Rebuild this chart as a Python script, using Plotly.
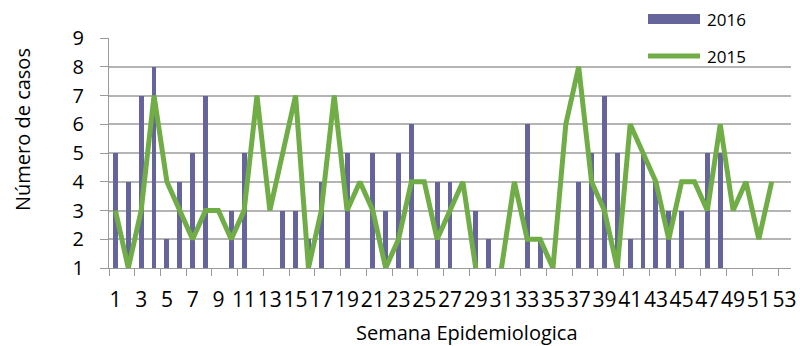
import plotly.graph_objects as go

# Epidemiological weeks 1..53
semanas = list(range(1, 54))

# Weekly case counts, 2016 (bars)
casos_2016 = [5, 4, 7, 8, 2, 4, 5, 7, 0, 3,
              5, 0, 0, 3, 3, 2, 4, 0, 5, 0,
              5, 3, 5, 6, 0, 4, 4, 0, 3, 2,
              0, 0, 6, 2, 0, 0, 4, 5, 7, 5,
              2, 5, 4, 3, 3, 0, 5, 5, 0, 0,
              0, 0, 0]

# Weekly case counts, 2015 (line); week 53 has no record
casos_2015 = [3, 1, 3, 7, 4, 3, 2, 3, 3, 2,
              3, 7, 3, 5, 7, 1, 3, 7, 3, 4,
              3, 1, 2, 4, 4, 2, 3, 4, 1, 0,
              1, 4, 2, 2, 1, 6, 8, 4, 3, 1,
              6, 5, 4, 2, 4, 4, 3, 6, 3, 4,
              2, 4, None]

etiquetas_x = [str(s) for s in semanas if s % 2 == 1]
valores_x = [s for s in semanas if s % 2 == 1]

PURPLE = "#65659C"
GREEN = "#70AD47"
GRID = "#b4b4b4"
AXIS = "#9a9a9a"
FONT = "Open Sans"

fig = go.Figure()
fig.add_trace(go.Bar(x=semanas, y=casos_2016, name="2016",
                     marker=dict(color=PURPLE, line=dict(width=0)),
                     width=0.38))
fig.add_trace(go.Scatter(x=semanas, y=casos_2015, name="2015", mode="lines",
                         line=dict(color=GREEN, width=5),
                         connectgaps=False))

# plot-area pixel geometry helpers
L, R, T, B = 109, 791, 38, 268
def px(x):
    return (x - L) / (R - L)
def py(y):
    return (B - y) / (B - T)

fig.update_layout(
    width=800, height=346,
    margin=dict(l=L, r=800 - R, t=T, b=346 - B, autoexpand=False),
    paper_bgcolor="white", plot_bgcolor="white",
    showlegend=False,
    font=dict(family=FONT, color="#000000", size=20),
    xaxis=dict(
        range=[0.5, 53.5], tickmode="array", tickvals=valores_x, ticktext=etiquetas_x,
        tickangle=0, ticks="", ticklen=0, showgrid=False, zeroline=False,
        showline=True, linecolor=AXIS, linewidth=1.2, automargin=False,
        tickfont=dict(size=21, family=FONT),
        ticklabelstandoff=13,
        minor=dict(tick0=0.5, dtick=2, ticks="outside", ticklen=7,
                   tickcolor=AXIS, tickwidth=1.2, showgrid=False),
    ),
    yaxis=dict(
        range=[1, 9], tickmode="linear", tick0=1, dtick=1,
        ticks="outside", ticklen=8, tickcolor=AXIS, tickwidth=1.2,
        showgrid=True, gridcolor=GRID, gridwidth=1.5, zeroline=False,
        showline=True, linecolor=AXIS, linewidth=1.2, automargin=False,
        tickfont=dict(size=20, family=FONT),
        ticklabelstandoff=12,
    ),
    bargap=0,
)

# legend drawn as keys + labels above the plot area
fig.add_shape(type="rect", xref="paper", yref="paper",
              x0=px(648), x1=px(700), y0=py(24), y1=py(14),
              fillcolor=PURPLE, line=dict(width=0))
fig.add_shape(type="line", xref="paper", yref="paper",
              x0=px(648), x1=px(700), y0=py(56), y1=py(56),
              line=dict(color=GREEN, width=5))
for txt, yy in (("2016", 19), ("2015", 56)):
    fig.add_annotation(text=txt, xref="paper", yref="paper",
                       x=px(705), y=py(yy), xanchor="left", yanchor="middle",
                       showarrow=False, font=dict(size=17, family=FONT))

# axis titles
fig.add_annotation(text="Número de casos", xref="paper", yref="paper",
                   x=px(22), y=py(130), textangle=-90, showarrow=False,
                   xanchor="center", yanchor="middle",
                   font=dict(size=20, family=FONT))
fig.add_annotation(text="Semana Epidemiologica", xref="paper", yref="paper",
                   x=px(467), y=py(332), showarrow=False,
                   xanchor="center", yanchor="middle",
                   font=dict(size=20, family=FONT))

fig.write_html("out.html")
